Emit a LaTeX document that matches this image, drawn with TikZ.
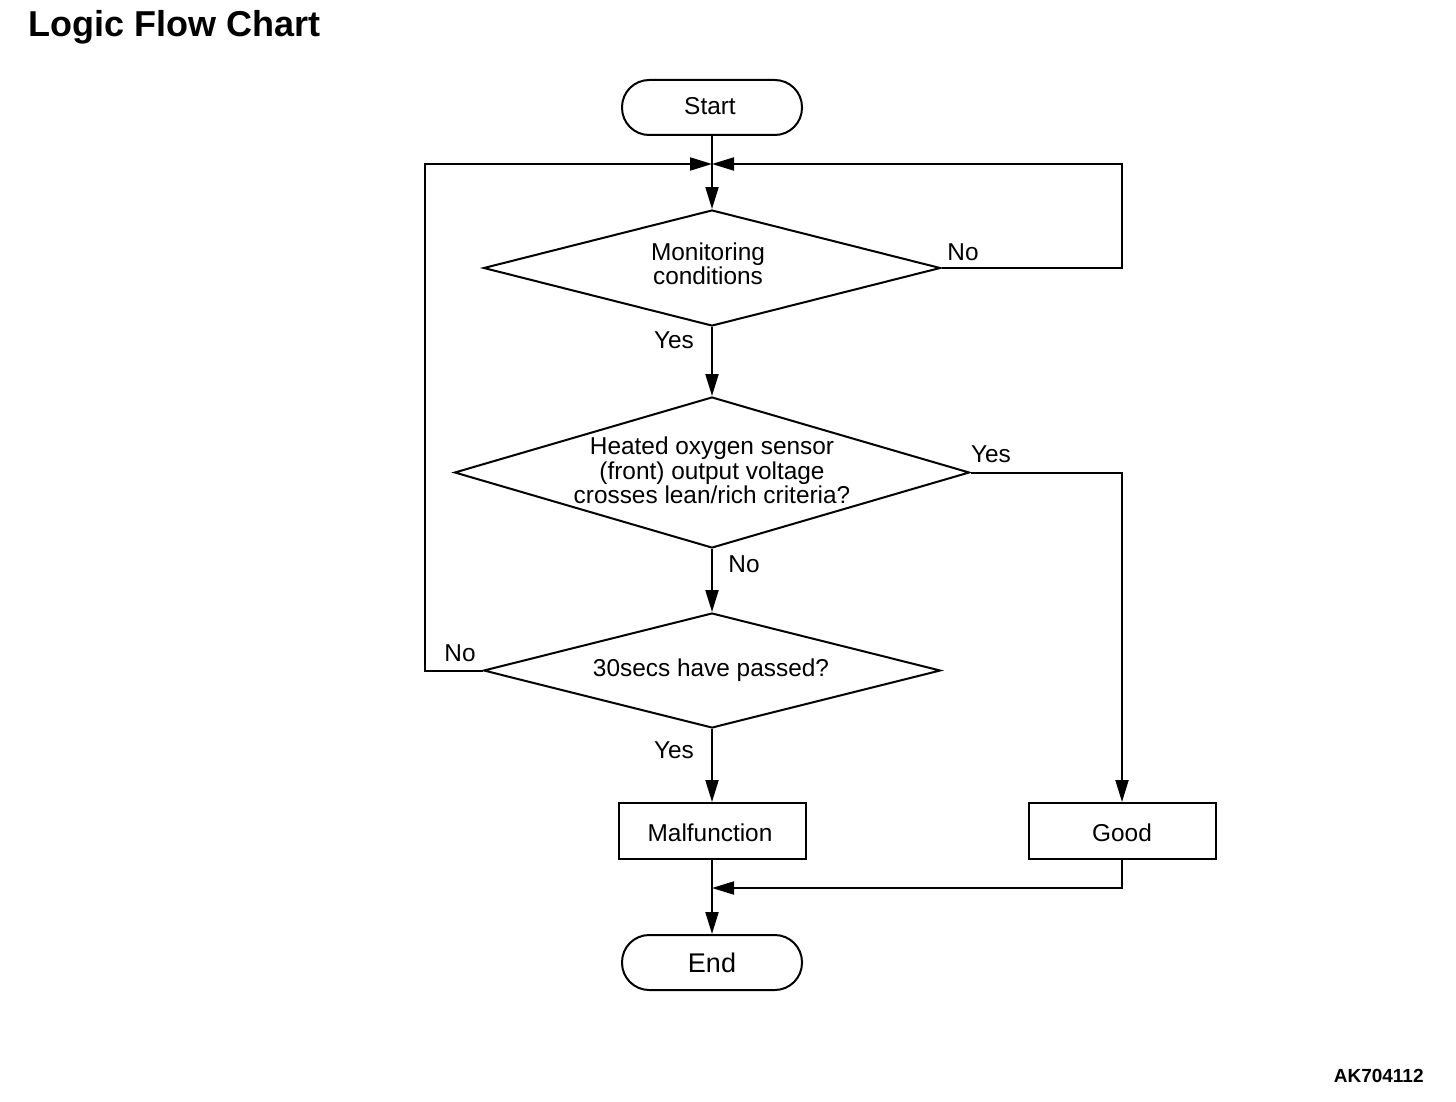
\documentclass[tikz,border=0pt]{standalone}
\usepackage{fontspec}
\setmainfont{Liberation Sans}
\usetikzlibrary{arrows.meta,shapes.geometric}
\begin{document}
\begin{tikzpicture}[x=0.5pt,y=-0.5pt,
  every node/.style={inner sep=0pt},
  txt/.style={font=\fontsize{12.2}{12.25}\selectfont, align=center},
  term/.style={draw, line width=1pt, rounded corners=13.6pt, minimum width=90pt, minimum height=27.5pt},
  proc/.style={draw, line width=1pt, minimum width=93.5pt, minimum height=28pt},
  dia/.style={draw, line width=1pt, diamond},
  flow/.style={line width=1pt, -{Triangle[length=11pt,width=6.5pt]}},
  plain/.style={line width=1pt}
]
\useasboundingbox (0,0) rectangle (1456,1102);
\node[anchor=west, font=\bfseries\fontsize{18}{20}\selectfont] (title) at (28,27) {Logic Flow Chart};
\node[anchor=east, font=\bfseries\fontsize{9.5}{11}\selectfont] (code) at (1424,1076) {AK704112};

\node[term] (start) at (712,107.5) {};
\node[txt] at (710,106) {Start};
\coordinate (j) at (712,164);

\node[dia, minimum width=228.5pt, minimum height=58pt] (d1) at (712,268) {};
\node[txt] at (708,264) {Monitoring\\conditions};

\node[dia, minimum width=257.5pt, minimum height=75.5pt] (d2) at (712,472.5) {};
\node[txt] at (712,470.5) {Heated oxygen sensor\\(front) output voltage\\crosses lean/rich criteria?};

\node[dia, minimum width=228.5pt, minimum height=57.5pt] (d3) at (712,670.5) {};
\node[txt] at (711,670) {30secs have passed?};

\node[proc] (mal) at (712,831) {};
\node[txt] at (710,833) {Malfunction};
\node[proc] (good) at (1122,831) {};
\node[txt] at (1122,833) {Good};

\node[term] (end) at (712,962.5) {};
\node[txt, font=\fontsize{13.5}{14}\selectfont] at (712,963) {End};
\coordinate (m) at (712,888);

% connectors
\draw[plain] (start.south) -- (j);
\draw[flow] (j) -- (d1.north);
\draw[flow] (d3.west) -- (425,670.5) |- (j);
\draw[flow] (d1.east) -- (1122,268) |- (j);
\draw[flow] (d1.south) -- (d2.north);
\draw[flow] (d2.east) -- (1122,472.5) -- (good.north);
\draw[flow] (d2.south) -- (d3.north);
\draw[flow] (d3.south) -- (mal.north);
\draw[flow] (mal.south) -- (end.north);
\draw[flow] (good.south) |- (m);

% labels
\node[txt] at (963,252) {No};
\node[txt] at (674,340) {Yes};
\node[txt] at (991,454) {Yes};
\node[txt] at (744,564) {No};
\node[txt] at (460,653) {No};
\node[txt] at (674,750) {Yes};
\end{tikzpicture}
\end{document}
